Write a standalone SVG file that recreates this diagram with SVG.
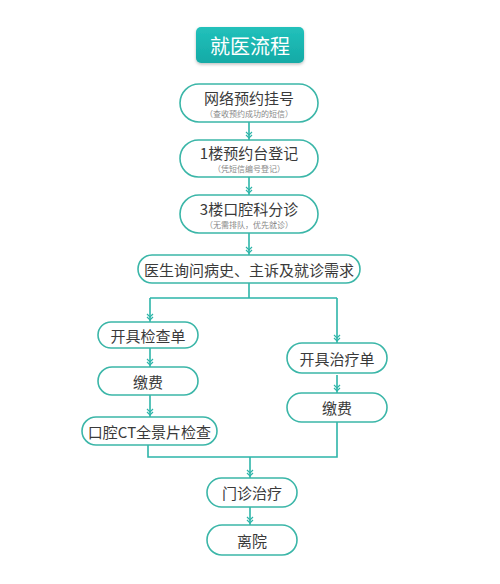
<svg xmlns="http://www.w3.org/2000/svg" width="500" height="584" viewBox="0 0 500 584">
<defs>
<linearGradient id="tg" x1="0" y1="0" x2="0" y2="1">
<stop offset="0" stop-color="#22c1bb"/>
<stop offset="1" stop-color="#14aaa6"/>
</linearGradient>
<filter id="sh" x="-10%" y="-20%" width="120%" height="150%">
<feDropShadow dx="0" dy="1.5" stdDeviation="1.5" flood-color="#000" flood-opacity="0.25"/>
</filter>
<marker id="chev" viewBox="-10 -5 12 10" refX="0" refY="0" markerWidth="12" markerHeight="10" markerUnits="userSpaceOnUse" orient="auto">
<path d="M-8,-3 L-5,0 L-8,3 M-5,-3 L-2,0 L-5,3" fill="none" stroke="#2db5a9" stroke-width="1.2"/>
</marker>
</defs>
<style>
.n{fill:#fff;stroke:#3bb6a8;stroke-width:1.6}
.t{font-family:"Noto Sans CJK SC","Liberation Sans",sans-serif;font-size:15px;fill:#3a3a3a;text-anchor:middle;dominant-baseline:central}
.s{font-family:"Noto Sans CJK SC","Liberation Sans",sans-serif;font-size:8px;fill:#888;text-anchor:middle;dominant-baseline:central}
.c{fill:none;stroke:#2db5a9;stroke-width:1.6}
</style>
<rect width="500" height="584" fill="#fff"/>
<g id="title">
<rect x="196" y="27" width="108" height="36" rx="5" fill="url(#tg)" filter="url(#sh)"/>
<text x="250" y="45" class="t" style="font-size:20px;fill:#fff">就医流程</text>
</g>
<g id="connectors">
<path class="c" d="M249,122 V140" marker-end="url(#chev)"/>
<path class="c" d="M249,177 V195" marker-end="url(#chev)"/>
<path class="c" d="M249,233 V255" marker-end="url(#chev)"/>
<path class="c" d="M249,283 V298 M150,298 H337"/>
<path class="c" d="M150,298 V322" marker-end="url(#chev)"/>
<path class="c" d="M337,298 V343" marker-end="url(#chev)"/>
<path class="c" d="M150,348 V367" marker-end="url(#chev)"/>
<path class="c" d="M150,395 V417" marker-end="url(#chev)"/>
<path class="c" d="M337,375 V393" marker-end="url(#chev)"/>
<path class="c" d="M148,445 V457 H337 V422"/>
<path class="c" d="M250,457 V478" marker-end="url(#chev)"/>
<path class="c" d="M250,507 V525" marker-end="url(#chev)"/>
</g>
<g id="n1">
<rect class="n" x="180" y="84" width="138" height="38" rx="19"/>
<text class="t" x="249" y="97">网络预约挂号</text>
<text class="s" x="249" y="113.5">（查收预约成功的短信）</text>
</g>
<g id="n2">
<rect class="n" x="180" y="140" width="138" height="37" rx="18.5"/>
<text class="t" x="249" y="152.5">1楼预约台登记</text>
<text class="s" x="249" y="168.5">（凭短信编号登记）</text>
</g>
<g id="n3">
<rect class="n" x="180" y="195" width="138" height="38" rx="19"/>
<text class="t" x="249" y="208">3楼口腔科分诊</text>
<text class="s" x="249" y="224.5">（无需排队，优先就诊）</text>
</g>
<g id="n4">
<rect class="n" x="138" y="255" width="222" height="28" rx="14"/>
<text class="t" x="249" y="269">医生询问病史、主诉及就诊需求</text>
</g>
<g id="n5">
<rect class="n" x="98" y="322" width="100" height="26" rx="13"/>
<text class="t" x="148" y="335">开具检查单</text>
</g>
<g id="n6">
<rect class="n" x="98" y="367" width="100" height="28" rx="14"/>
<text class="t" x="148" y="381">缴费</text>
</g>
<g id="n7">
<rect class="n" x="82" y="417" width="135" height="28" rx="14"/>
<text class="t" x="149.5" y="431">口腔CT全景片检查</text>
</g>
<g id="n8">
<rect class="n" x="287" y="343" width="100" height="30" rx="15"/>
<text class="t" x="337" y="358">开具治疗单</text>
</g>
<g id="n9">
<rect class="n" x="287" y="393" width="100" height="29" rx="14.5"/>
<text class="t" x="337" y="407.5">缴费</text>
</g>
<g id="n10">
<rect class="n" x="207" y="478" width="90" height="29" rx="14.5"/>
<text class="t" x="252" y="492.5">门诊治疗</text>
</g>
<g id="n11">
<rect class="n" x="207" y="525" width="90" height="30" rx="15"/>
<text class="t" x="252" y="540">离院</text>
</g>
</svg>
